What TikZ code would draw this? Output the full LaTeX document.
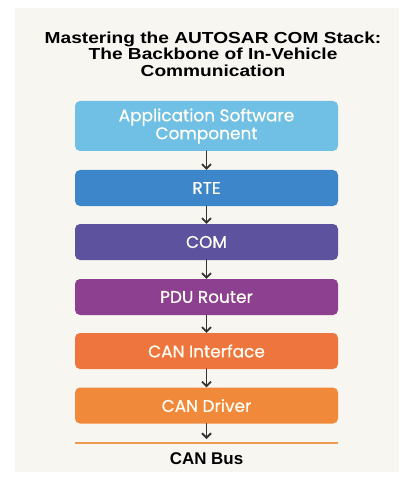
\documentclass[tikz,border=0pt]{standalone}
\usepackage{fontspec}
\setmainfont{Liberation Sans}
\newfontfamily\headfont[FakeStretch=1.2]{Liberation Sans}
\newfontfamily\boxfont[FakeBold=0.6]{Poppins}
\usetikzlibrary{positioning,arrows.meta}

\definecolor{panelbg}{HTML}{F8F6F0}
\definecolor{aswblue}{HTML}{70C0E6}
\definecolor{rteblue}{HTML}{3C86C9}
\definecolor{compurple}{HTML}{5C529E}
\definecolor{pduviolet}{HTML}{8E4090}
\definecolor{canifred}{HTML}{EE763E}
\definecolor{candrvorange}{HTML}{F0893A}
\definecolor{busorange}{HTML}{EE9A50}
\definecolor{arrowgray}{HTML}{333333}

\begin{document}
\begin{tikzpicture}[x=1bp, y=-1bp, line cap=round, line join=round,
  layer/.style={rounded corners=5bp, minimum width=263bp, minimum height=36bp,
    inner sep=0pt, align=center, text=white!96!yellow, font=\boxfont\fontsize{17}{18}\selectfont},
  flow/.style={-{Straight Barb[length=4.5bp,width=9bp]}, line width=1.8bp, draw=arrowgray}]
  \useasboundingbox (0,0) rectangle (408,483);

  %--- panel ----------------------------------------------------------------
  \fill[panelbg] (15,8) rectangle (399,472);

  %--- title ----------------------------------------------------------------
  \node[align=center, font=\headfont\bfseries\fontsize{16}{16.5}\selectfont] (title) at (213,54)
    {Mastering the AUTOSAR COM Stack:\\The Backbone of In-Vehicle\\Communication};

  %--- stack layers ---------------------------------------------------------
  \node[layer, fill=aswblue, minimum height=50bp] (asw) at (206.5,126)
    {Application Software\\Component};
  \node[layer, fill=rteblue]      (rte)   at (206.5,188) {RTE};
  \node[layer, fill=compurple]    (com)   at (206.5,242) {COM};
  \node[layer, fill=pduviolet]    (pdur)  at (206.5,297) {PDU Router};
  \node[layer, fill=canifred]     (canif) at (206.5,351) {CAN Interface};
  \node[layer, fill=candrvorange] (candrv) at (206.5,405.5) {CAN Driver};

  %--- bus ------------------------------------------------------------------
  \coordinate (busL) at (75,443);
  \coordinate (busR) at (338,443);
  \coordinate (busTap) at (206.5,439);
  \draw[busorange, line width=2bp, line cap=butt] (busL) -- (busR);
  \node[font=\bfseries\fontsize{17}{18}\selectfont] (bus) at (206.5,459) {CAN Bus};

  %--- arrows ---------------------------------------------------------------
  \draw[flow] (asw) -- (rte);
  \draw[flow] (rte) -- (com);
  \draw[flow] (com) -- (pdur);
  \draw[flow] (pdur) -- (canif);
  \draw[flow] (canif) -- (candrv);
  \draw[flow] (candrv) -- (busTap);
\end{tikzpicture}
\end{document}
